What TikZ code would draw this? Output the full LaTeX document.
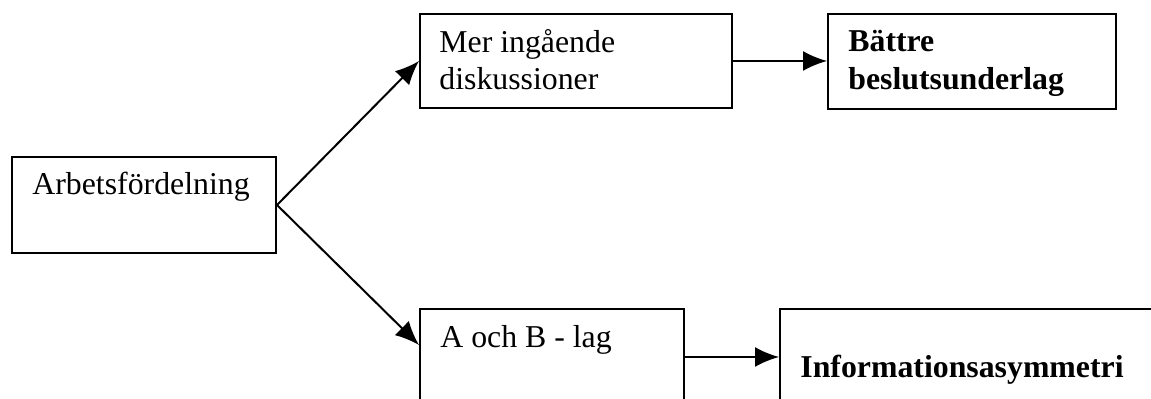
\documentclass[tikz,border=0pt]{standalone}
\usepackage{fontspec}
\setmainfont{Liberation Serif}
\usetikzlibrary{arrows.meta}
\tikzset{
  box/.style={draw, line width=1pt, rectangle, inner sep=0pt, anchor=north west},
  txt/.style={anchor=base west, inner sep=0pt, font=\fontsize{15.9}{19}\selectfont},
  btxt/.style={txt, font=\fontsize{15.9}{19}\selectfont\bfseries},
  arr/.style={line width=1pt, -{Latex[length=12pt,width=10pt]}}
}
\begin{document}
\begin{tikzpicture}[x=0.5pt,y=-0.5pt]
\useasboundingbox (0,0) rectangle (1151,399);
\clip (0,0) rectangle (1151,399);
% boxes
\node[box, minimum width=132pt, minimum height=48pt] (b1) at (11,156) {};
\node[box, minimum width=156pt, minimum height=47pt] (b2) at (419,13) {};
\node[box, minimum width=144pt, minimum height=47.5pt] (b3) at (827,13) {};
\node[box, minimum width=132pt, minimum height=60pt] (b4) at (419,308) {};
\node[box, minimum width=200pt, minimum height=60pt] (b5) at (779,308) {};
% texts
\node[txt] (t1) at (32,195) {Arbetsfördelning};
\node[txt] (t2a) at (439,53) {Mer ingående};
\node[txt] (t2b) at (439,90) {diskussioner};
\node[btxt] (t3a) at (848,52) {Bättre};
\node[btxt] (t3b) at (848,90) {beslutsunderlag};
\node[txt] (t4) at (440,348) {A och B - lag};
\node[btxt] (t5) at (800,378) {Informationsasymmetri};
% connector points
\path (b4.north west) ++(0,37) coordinate (q4);
\path (b4.north east) ++(0,49) coordinate (p4);
\path (b5.north west) ++(0,49) coordinate (q5);
% connectors
\draw[arr] (b1.east) -- (b2.west);
\draw[arr] (b1.east) -- (q4);
\draw[arr] (b2.east) -- (b2.east -| b3.west);
\draw[arr] (p4) -- (q5);
\end{tikzpicture}
\end{document}
